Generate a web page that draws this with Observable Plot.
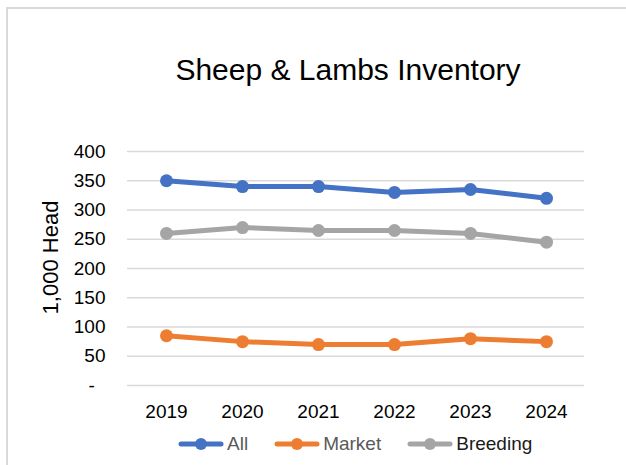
<!DOCTYPE html>
<html>
<head>
<meta charset="utf-8">
<script src="https://cdn.jsdelivr.net/npm/d3@7"></script>
<script src="https://cdn.jsdelivr.net/npm/@observablehq/plot@0.6"></script>
<style>
  html, body { margin: 0; padding: 0; background: #fff; }
  body { font-family: "Liberation Sans", Arial, sans-serif; }
  #wrap { position: relative; width: 626px; height: 465px; overflow: hidden; background: #fff; }
  #border { position: absolute; left: 6px; top: 7px; right: -20px; bottom: -20px; border: 2px solid #d9d9d9; }
  #title { position: absolute; left: 35px; width: 626px; top: 55px; text-align: center; font-size: 30px; line-height: 30px; color: #000; }
  #chart { position: absolute; left: 0; top: 130px; }
  #legend { position: absolute; left: 178px; top: 432px; display: flex; align-items: center; font-size: 19px; line-height: 24px; }
  #legend .item { display: flex; align-items: center; margin-right: 26px; }
  #legend svg { margin-right: 3px; }
</style>
</head>
<body>
<div id="wrap">
  <div id="border"></div>
  <div id="title"></div>
  <div id="chart"></div>
  <div id="legend"></div>
</div>
<script>
const title = "Sheep & Lambs Inventory";
const yLabel = "1,000 Head";
const years = ["2019", "2020", "2021", "2022", "2023", "2024"];
const seriesNames = ["All", "Market", "Breeding"];
const allValues = [350, 340, 340, 330, 335, 320];
const marketValues = [85, 75, 70, 70, 80, 75];
const breedingValues = [260, 270, 265, 265, 260, 245];
const yTicks = [0, 50, 100, 150, 200, 250, 300, 350, 400];
const colors = ["#4472C4", "#ED7D31", "#A5A5A5"];
const legendTextColors = ["#595959", "#595959", "#1a1a1a"];

document.getElementById("title").textContent = title;

const valuesBySeries = [allValues, marketValues, breedingValues];
const data = [];
seriesNames.forEach((s, i) => {
  years.forEach((y, j) => data.push({series: s, year: y, value: valuesBySeries[i][j]}));
});

const chart = Plot.plot({
  width: 626,
  height: 300,
  marginLeft: 127,
  marginRight: 42,
  marginTop: 21,
  marginBottom: 45,
  style: {fontFamily: "'Liberation Sans', Arial, sans-serif", fontSize: "19px", color: "#000", background: "transparent"},
  x: {type: "point", domain: years, padding: 0.5, label: null},
  y: {domain: [0, 400], label: null},
  color: {domain: seriesNames, range: colors},
  marks: [
    Plot.ruleY(yTicks, {stroke: "#d9d9d9", strokeWidth: 1.5}),
    Plot.axisX({tickSize: 0, tickPadding: 19, label: null, fontSize: 19, fill: "#000"}),
    Plot.axisY({ticks: yTicks, tickSize: 0, tickPadding: 22, label: null, fontSize: 19, fill: "#000",
      tickFormat: d => d === 0 ? "-\u00a0\u00a0" : String(d)}),
    Plot.text([yLabel], {frameAnchor: "left", textAnchor: "middle", rotate: -90, dx: -77, dy: -11, fontSize: 22, fill: "#000", text: d => d}),
    Plot.line(data, {x: "year", y: "value", z: "series", stroke: "series", strokeWidth: 5, strokeLinejoin: "round", strokeLinecap: "round"}),
    Plot.dot(data, {x: "year", y: "value", fill: "series", r: 6.5, stroke: "none"})
  ]
});
document.getElementById("chart").appendChild(chart);

const legend = document.getElementById("legend");
seriesNames.forEach((s, i) => {
  const item = document.createElement("div");
  item.className = "item";
  item.innerHTML = `<svg width="46" height="14"><line x1="3" y1="7" x2="43" y2="7" stroke="${colors[i]}" stroke-width="5" stroke-linecap="round"/><circle cx="23" cy="7" r="6" fill="${colors[i]}"/></svg><span style="color:${legendTextColors[i]}">${s}</span>`;
  legend.appendChild(item);
});
</script>
</body>
</html>
